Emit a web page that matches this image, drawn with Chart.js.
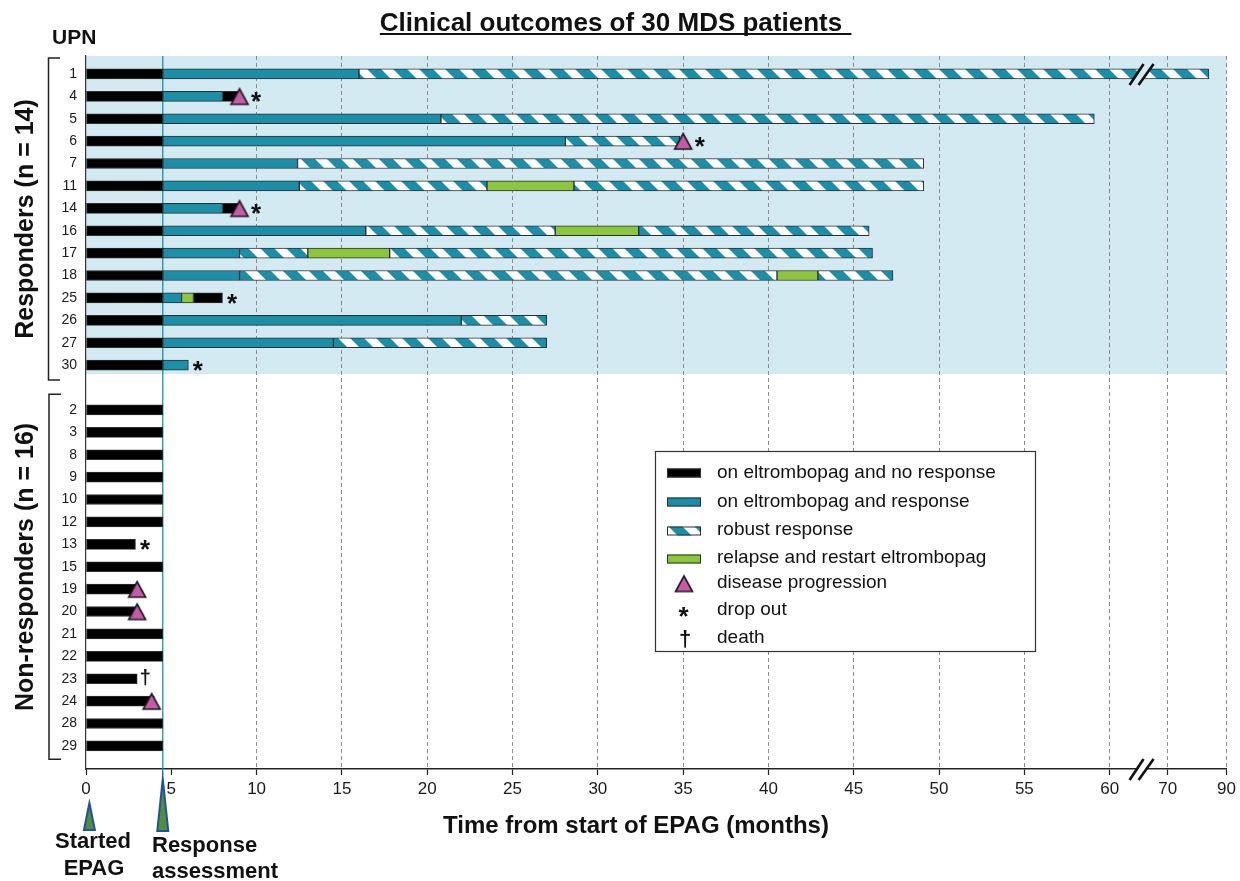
<!DOCTYPE html>
<html>
<head>
<meta charset="utf-8">
<script src="https://cdn.jsdelivr.net/npm/chart.js@4.4.1/dist/chart.umd.min.js"></script>
<style>
html,body{margin:0;padding:0;background:#ffffff;}
canvas{display:block;}
</style>
</head>
<body>
<canvas id="chart" width="1240" height="881"></canvas>
<script>
// ---------------- data ----------------
const responderUPN = [1, 4, 5, 6, 7, 11, 14, 16, 17, 18, 25, 26, 27, 30];
const nonResponderUPN = [2, 3, 8, 9, 10, 12, 13, 15, 19, 20, 21, 22, 23, 24, 28, 29];

// x tick labels (months) and where they sit on the broken axis
const tickMonths  = [0, 5, 10, 15, 20, 25, 30, 35, 40, 45, 50, 55, 60, 70, 90];
const tickAxisPos = [0, 5, 10, 15, 20, 25, 30, 35, 40, 45, 50, 55, 60, 63.4, 66.85];
const axisBreakMonth = 65.5;
const responseAssessmentMonth = 4.5;
const startMonthMarker = 0.2;

// [UPN, start month, end month]
const noResponse = [
  [1,0,4.5],[4,0,4.5],[4,8,9],[5,0,4.5],[6,0,4.5],[7,0,4.5],[11,0,4.5],[14,0,4.5],[14,8,9],
  [16,0,4.5],[17,0,4.5],[18,0,4.5],[25,0,4.5],[25,6.3,8],[26,0,4.5],[27,0,4.5],[30,0,4.5],
  [2,0,4.5],[3,0,4.5],[8,0,4.5],[9,0,4.5],[10,0,4.5],[12,0,4.5],[13,0,2.9],[15,0,4.5],
  [19,0,3],[20,0,3],[21,0,4.5],[22,0,4.5],[23,0,3],[24,0,4],[28,0,4.5],[29,0,4.5]
];
const onResponse = [
  [1,4.5,16],[4,4.5,8],[5,4.5,20.8],[6,4.5,28.1],[7,4.5,12.4],[11,4.5,12.5],[14,4.5,8],
  [16,4.5,16.4],[17,4.5,9],[18,4.5,9],[25,4.5,5.6],[26,4.5,22],[27,4.5,14.5],[30,4.5,6]
];
const robustResponse = [
  [1,16,84],[5,20.8,59.1],[6,28.1,34.8],[7,12.4,49.1],[11,12.5,23.5],[11,28.6,49.1],
  [16,16.4,27.5],[16,32.4,45.9],[17,9,13],[17,17.8,46.1],[18,9,40.5],[18,42.9,47.3],
  [26,22,27],[27,14.5,27]
];
const relapseRestart = [[11,23.5,28.6],[16,27.5,32.4],[17,13,17.8],[18,40.5,42.9],[25,5.6,6.3]];
// [UPN, month]
const progression = [[4,9],[6,35],[14,9],[19,3],[20,3],[24,3.85]];
const dropOut = [[4,9],[6,35],[14,9],[25,8],[30,6],[13,2.9]];
const death = [[23,3]];

// ---------------- helpers ----------------
const TEAL = '#1b8ea8';
const GREEN = '#8cc63f';
const PINK = '#c65aa8';
const BAND = '#d4eaf3';
const FONT = '"Liberation Sans", Arial, Helvetica, sans-serif';

function toAxis(m) {
  for (let i = 1; i < tickMonths.length; i++) {
    if (m <= tickMonths[i]) {
      const a = tickMonths[i - 1], b = tickMonths[i];
      return tickAxisPos[i - 1] + (m - a) / (b - a) * (tickAxisPos[i] - tickAxisPos[i - 1]);
    }
  }
  return tickAxisPos[tickAxisPos.length - 1];
}
const GAP = 1;
function slotOf(upn) {
  const r = responderUPN.indexOf(upn);
  if (r >= 0) return r;
  return responderUPN.length + GAP + nonResponderUPN.indexOf(upn);
}
const slotLabel = {};
responderUPN.forEach(u => slotLabel[slotOf(u)] = String(u));
nonResponderUPN.forEach(u => slotLabel[slotOf(u)] = String(u));
const slotValues = Object.keys(slotLabel).map(Number).sort((a, b) => a - b);

const canvas = document.getElementById('chart');
const ctx = canvas.getContext('2d');

function makeStripes() {
  const P = 26, W = 12;
  const c = document.createElement('canvas');
  c.width = P; c.height = P;
  const g = c.getContext('2d');
  g.fillStyle = TEAL; g.fillRect(0, 0, P, P);
  g.fillStyle = '#ffffff';
  for (const o of [-P, 0, P]) {
    g.beginPath();
    g.moveTo(o, 0); g.lineTo(o + W, 0); g.lineTo(o + W + P, P); g.lineTo(o + P, P);
    g.closePath(); g.fill();
  }
  return ctx.createPattern(c, 'repeat');
}
const stripes = makeStripes();

function makeTriangle() {
  const c = document.createElement('canvas');
  c.width = 22; c.height = 32;
  const g = c.getContext('2d');
  g.beginPath();
  g.moveTo(11, 8.5); g.lineTo(19.5, 24); g.lineTo(2.5, 24); g.closePath();
  g.fillStyle = PINK; g.fill();
  g.lineWidth = 1.6; g.strokeStyle = '#1a1a1a'; g.lineJoin = 'miter'; g.stroke();
  return c;
}
const triangleImg = makeTriangle();

function barSet(label, rows, color) {
  return {
    type: 'bar', label, indexAxis: 'y', grouped: false, order: 1,
    data: rows.map(([u, s, e]) => ({ y: slotOf(u), x: [toAxis(s), toAxis(e)] })),
    backgroundColor: color, borderColor: '#2e2e2e', borderWidth: 1, borderSkipped: false,
    barThickness: 10, xAxisID: 'x', yAxisID: 'y'
  };
}

function glyphAt(g, text, cx, cy, font) {
  g.font = font; g.textAlign = 'left'; g.textBaseline = 'alphabetic';
  const m = g.measureText(text);
  const x = cx - (m.actualBoundingBoxRight - m.actualBoundingBoxLeft) / 2;
  const y = cy + (m.actualBoundingBoxAscent - m.actualBoundingBoxDescent) / 2;
  g.fillText(text, x, y);
}

function breakMark(g, cx, cy, fill) {
  g.save();
  g.fillStyle = fill;
  g.beginPath();
  g.moveTo(cx - 10, cy + 10); g.lineTo(cx + 3, cy - 10); g.lineTo(cx + 12, cy - 10); g.lineTo(cx - 1, cy + 10);
  g.closePath(); g.fill();
  g.strokeStyle = '#111'; g.lineWidth = 2.6; g.lineCap = 'butt';
  g.beginPath(); g.moveTo(cx - 12, cy + 11); g.lineTo(cx + 2, cy - 10); g.stroke();
  g.beginPath(); g.moveTo(cx - 3, cy + 11); g.lineTo(cx + 12, cy - 10); g.stroke();
  g.restore();
}

// ---------------- plugin for annotations ----------------
const decorations = {
  id: 'decorations',
  beforeDraw(chart) {
    const g = chart.ctx, a = chart.chartArea, ys = chart.scales.y;
    g.save();
    g.fillStyle = '#ffffff'; g.fillRect(0, 0, chart.width, chart.height);
    const bandBottom = ys.getPixelForValue(responderUPN.length - 0.6);
    g.fillStyle = BAND; g.fillRect(a.left, a.top, a.right - a.left, bandBottom - a.top);
    g.restore();
  },
  beforeDatasetsDraw(chart) {
    const g = chart.ctx, a = chart.chartArea, xs = chart.scales.x;
    const x = xs.getPixelForValue(toAxis(responseAssessmentMonth));
    g.save();
    g.strokeStyle = TEAL; g.lineWidth = 1.3;
    g.beginPath(); g.moveTo(x, a.top); g.lineTo(x, a.bottom + 6); g.stroke();
    g.restore();
  },
  afterDatasetsDraw(chart) {
    const g = chart.ctx, xs = chart.scales.x, ys = chart.scales.y;
    g.save();
    g.fillStyle = '#111';
    const hasTri = new Set(progression.map(p => p[0] + ':' + p[1]));
    dropOut.forEach(([u, m]) => {
      const off = hasTri.has(u + ':' + m) ? 17 : 10;
      glyphAt(g, '*', xs.getPixelForValue(toAxis(m)) + off, ys.getPixelForValue(slotOf(u)) + 1, 'bold 26px ' + FONT);
    });
    death.forEach(([u, m]) => {
      glyphAt(g, '\u2020', xs.getPixelForValue(toAxis(m)) + 8, ys.getPixelForValue(slotOf(u)) - 1.5, 'bold 20px ' + FONT);
    });
    // axis break shown on the longest bar
    robustResponse.filter(r => r[2] > axisBreakMonth && r[1] < axisBreakMonth).forEach(([u]) => {
      breakMark(g, xs.getPixelForValue(toAxis(axisBreakMonth)), ys.getPixelForValue(slotOf(u)), BAND);
    });
    g.restore();
  },
  afterDraw(chart) {
    const g = chart.ctx, a = chart.chartArea, xs = chart.scales.x, ys = chart.scales.y;
    g.save();
    // axis break on x axis
    breakMark(g, xs.getPixelForValue(toAxis(axisBreakMonth)), a.bottom, '#ffffff');

    // title
    g.fillStyle = '#111';
    g.font = 'bold 26px ' + FONT; g.textBaseline = 'alphabetic'; g.textAlign = 'left';
    const title = 'Clinical outcomes of 30 MDS patients';
    const tw = g.measureText(title).width, sw = g.measureText(' ').width;
    const tx = 611 - tw / 2;
    g.fillText(title, tx, 31);
    g.fillRect(tx, 33, tw + sw + 2, 2);

    // UPN header
    g.font = 'bold 21px ' + FONT; g.fillText('UPN', 52, 44);

    // group labels
    g.font = 'bold 25px ' + FONT; g.textAlign = 'center';
    const rTop = a.top, rBot = ys.getPixelForValue(responderUPN.length - 0.6);
    const nTop = ys.getPixelForValue(responderUPN.length + GAP - 0.7);
    const nBot = ys.getPixelForValue(responderUPN.length + GAP + nonResponderUPN.length - 0.4);
    g.save(); g.translate(33, 219); g.rotate(-Math.PI / 2); g.fillText('Responders (n = 14)', 0, 0); g.restore();
    g.save(); g.translate(33, 567); g.rotate(-Math.PI / 2); g.fillText('Non-responders (n = 16)', 0, 0); g.restore();

    // brackets
    g.strokeStyle = '#222'; g.lineWidth = 1.5;
    g.beginPath(); g.moveTo(60, rTop + 2); g.lineTo(48.5, rTop + 2); g.lineTo(48.5, rBot + 6); g.lineTo(60, rBot + 6); g.stroke();
    g.beginPath(); g.moveTo(61, nTop); g.lineTo(49, nTop); g.lineTo(49, nBot); g.lineTo(61, nBot); g.stroke();

    // x axis title
    g.font = 'bold 24px ' + FONT; g.textAlign = 'center';
    g.fillText('Time from start of EPAG (months)', 636, 833);

    // milestone arrows
    const tri = (x, top, bottom) => {
      g.beginPath(); g.moveTo(x, top); g.lineTo(x + 5.5, bottom); g.lineTo(x - 5.5, bottom); g.closePath();
      g.fillStyle = '#4f8f3a'; g.fill(); g.strokeStyle = '#2350a0'; g.lineWidth = 2; g.stroke();
    };
    tri(xs.getPixelForValue(toAxis(startMonthMarker)), 803, 830);
    tri(xs.getPixelForValue(toAxis(responseAssessmentMonth)), 779, 831);
    g.fillStyle = '#111';
    g.font = 'bold 22px ' + FONT; g.textAlign = 'center';
    g.fillText('Started', 93, 848);
    g.fillText('EPAG', 94, 875);
    g.textAlign = 'left';
    g.fillText('Response', 152, 852);
    g.fillText('assessment', 152, 878);

    // legend
    const L = 655, T = 451, R = 1035, B = 651;
    g.fillStyle = '#ffffff'; g.fillRect(L, T, R - L, B - T);
    g.strokeStyle = '#333'; g.lineWidth = 1.2; g.strokeRect(L + 0.5, T + 0.5, R - L, B - T);
    const items = [
      ['rect', '#000', 'on eltrombopag and no response', 478, 473],
      ['rect', TEAL, 'on eltrombopag and response', 507, 502],
      ['rect', stripes, 'robust response', 535, 531],
      ['rect', GREEN, 'relapse and restart eltrombopag', 563, 559],
      ['tri', PINK, 'disease progression', 588, 583],
      ['star', '#111', 'drop out', 615, 612],
      ['dagger', '#111', 'death', 643, 639]
    ];
    items.forEach(([kind, col, label, base, cy]) => {
      if (kind === 'rect') {
        g.fillStyle = col; g.fillRect(667, cy - 4.5, 34, 9);
        g.strokeStyle = '#2e2e2e'; g.lineWidth = 1; g.strokeRect(667.5, cy - 4, 33, 8);
      } else if (kind === 'tri') {
        g.drawImage(triangleImg, 684 - 11, cy - 16 + 0.5);
      } else if (kind === 'star') {
        g.fillStyle = col; glyphAt(g, '*', 684, cy, 'bold 26px ' + FONT);
      } else {
        g.fillStyle = col; glyphAt(g, '\u2020', 685, cy, 'bold 22px ' + FONT);
      }
      g.fillStyle = '#111'; g.font = '19px ' + FONT; g.textAlign = 'left'; g.textBaseline = 'alphabetic';
      g.fillText(label, 717, base);
    });
    g.restore();
  }
};

// ---------------- chart ----------------
new Chart(ctx, {
  type: 'bar',
  data: {
    datasets: [
      barSet('on eltrombopag and no response', noResponse, '#000000'),
      barSet('on eltrombopag and response', onResponse, TEAL),
      barSet('robust response', robustResponse, stripes),
      barSet('relapse and restart eltrombopag', relapseRestart, GREEN),
      {
        type: 'scatter', label: 'disease progression', order: 0,
        data: progression.map(([u, m]) => ({ x: toAxis(m), y: slotOf(u) })),
        pointStyle: triangleImg, pointRadius: 10, showLine: false,
        xAxisID: 'x', yAxisID: 'y'
      }
    ]
  },
  options: {
    responsive: false,
    animation: false,
    devicePixelRatio: 1,
    events: [],
    layout: { padding: { left: 0, right: 12, top: 56, bottom: 0 } },
    plugins: { legend: { display: false }, title: { display: false }, tooltip: { enabled: false } },
    scales: {
      x: {
        type: 'linear', offset: false, min: 0, max: tickAxisPos[tickAxisPos.length - 1],
        afterBuildTicks: s => { s.ticks = tickAxisPos.map(v => ({ value: v })); },
        afterFit: s => { s.height = 112; },
        ticks: {
          autoSkip: false, maxRotation: 0, padding: 4, color: '#1a1a1a',
          font: { family: FONT, size: 17 },
          callback: (v, i) => String(tickMonths[i])
        },
        grid: {
          offset: false,
          color: c => (c.tick && (c.tick.value === 0 || c.tick.value === 5)) ? 'rgba(0,0,0,0)' : '#8c8c8c',
          lineWidth: 1, drawTicks: true, tickLength: 6, tickColor: '#222', tickWidth: 1.2, tickBorderDash: []
        },
        border: { display: true, color: '#222', width: 1.5, dash: [4, 3] }
      },
      y: {
        type: 'linear', offset: false, reverse: true, min: -0.8, max: 31.03,
        afterBuildTicks: s => { s.ticks = slotValues.map(v => ({ value: v })); },
        afterFit: s => { s.width = 86; },
        ticks: {
          autoSkip: false, padding: 9, color: '#1a1a1a',
          font: { family: FONT, size: 14 },
          callback: v => slotLabel[v] || ''
        },
        grid: { display: false, drawTicks: false, offset: false },
        border: { display: true, color: '#333', width: 1.2 }
      }
    }
  },
  plugins: [decorations]
});
</script>
</body>
</html>
